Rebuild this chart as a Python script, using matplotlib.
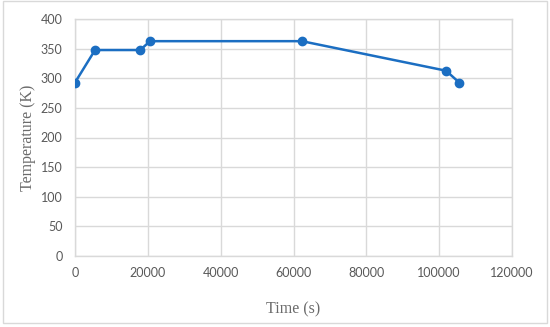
import matplotlib
matplotlib.use("Agg")
import matplotlib.pyplot as plt
from matplotlib.patches import Rectangle

# data
time_s = [0, 5500, 17900, 20600, 62300, 101900, 105500]
temp_k = [293, 348, 348, 363, 363, 313, 293]
x_ticks = [0, 20000, 40000, 60000, 80000, 100000, 120000]
y_ticks = [0, 50, 100, 150, 200, 250, 300, 350, 400]

W, H = 550, 327
fig = plt.figure(figsize=(W / 100, H / 100), dpi=100)
ax = fig.add_axes([75 / W, 1 - 255.7 / H, (512 - 75) / W, (255.7 - 19.3) / H])

grid_col = "#d9d9d9"
ax.plot(time_s, temp_k, color="#1b6ec2", lw=1.8, marker="o", ms=6, zorder=3)

ax.set_xlim(0, 120000)
ax.set_ylim(0, 400)
ax.set_xticks(x_ticks)
ax.set_yticks(y_ticks)
ax.grid(True, color=grid_col, lw=1)
ax.set_axisbelow(True)
for s in ax.spines.values():
    s.set_color(grid_col)
    s.set_linewidth(1)
ax.tick_params(length=0, labelsize=9, labelcolor="#595959")
ax.tick_params(axis="y", pad=9)
ax.tick_params(axis="x", pad=8)
for lab in ax.get_xticklabels() + ax.get_yticklabels():
    lab.set_fontfamily("Lato")

ax.set_xlabel("Time (s)", fontfamily="Liberation Serif", fontsize=11.5, color="#6b6b6b", labelpad=16)
ax.set_ylabel("Temperature (K)", fontfamily="Liberation Serif", fontsize=11.5, color="#6b6b6b", labelpad=3.5)

# outer chart border
fig.patches.append(Rectangle((3 / W, 4 / H), 544 / W, (H - 5) / H, transform=fig.transFigure,
                             fill=False, edgecolor=grid_col, lw=1))

fig.savefig("out.png", dpi=100)
